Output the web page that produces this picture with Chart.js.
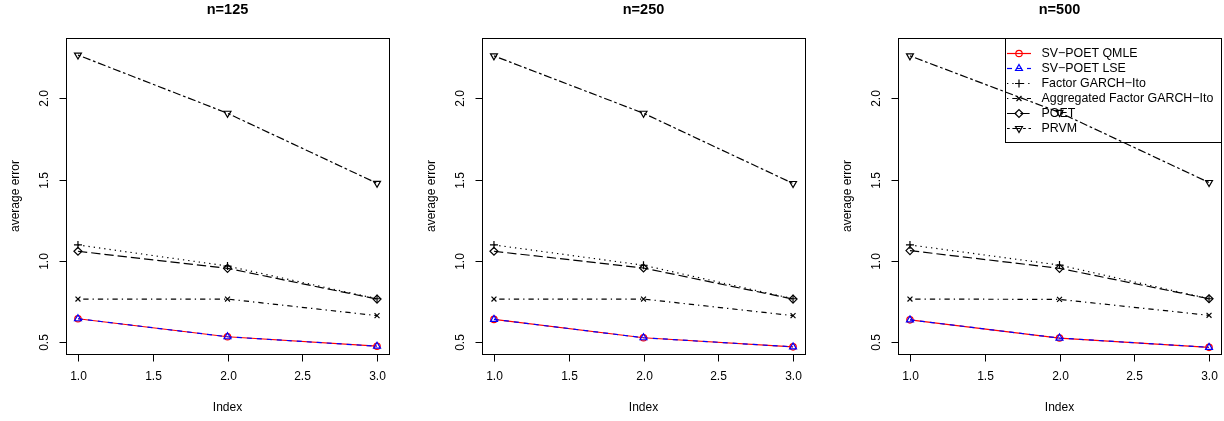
<!DOCTYPE html>
<html>
<head>
<meta charset="utf-8">
<script src="https://cdn.jsdelivr.net/npm/chart.js@4.4.1/dist/chart.umd.min.js"></script>
<style>
  html, body { margin: 0; padding: 0; background: #fff; overflow: hidden; }
  #wrap { position: relative; width: 1224px; height: 421px; overflow: hidden; }
  .panel { position: absolute; top: 0; width: 408px; height: 421px; }
</style>
</head>
<body>
<div id="wrap">
  <div class="panel" style="left:0px"><canvas id="c0" width="408" height="421"></canvas></div>
  <div class="panel" style="left:416px"><canvas id="c1" width="408" height="421"></canvas></div>
  <div class="panel" style="left:832px"><canvas id="c2" width="408" height="421"></canvas></div>
</div>
<script>
// --- DATA ---
const panelTitles = ['n=125', 'n=250', 'n=500'];
const xIndex = [1, 2, 3];
const xTicks = [1.0, 1.5, 2.0, 2.5, 3.0];
const yTicks = [0.5, 1.0, 1.5, 2.0];
const seriesNames = ['SV\u2212POET QMLE', 'SV\u2212POET LSE', 'Factor GARCH\u2212Ito',
  'Aggregated Factor GARCH\u2212Ito', 'POET', 'PRVM'];

// one row per panel (n=125, n=250, n=500)
const svPoetQmle = [[0.645, 0.534, 0.476], [0.641, 0.528, 0.472], [0.638, 0.526, 0.469]];
const svPoetLse = [[0.645, 0.534, 0.476], [0.641, 0.528, 0.472], [0.638, 0.526, 0.469]];
const factorGarch = [[1.099, 0.969, 0.768], [1.099, 0.974, 0.768], [1.099, 0.975, 0.768]];
const aggFactorGarch = [[0.766, 0.766, 0.664], [0.766, 0.766, 0.664], [0.766, 0.764, 0.666]];
const poet = [[1.060, 0.955, 0.766], [1.060, 0.957, 0.766], [1.064, 0.955, 0.768]];
const prvm = [[2.267, 1.909, 1.478], [2.262, 1.909, 1.477], [2.262, 1.914, 1.483]];

const allSeries = [svPoetQmle, svPoetLse, factorGarch, aggFactorGarch, poet, prvm];

// R lty / pch look-alikes
const styles = [
  { color: '#ff0000', dash: [], point: 'circle', rot: 0, r: 3.2 },
  { color: '#0000ff', dash: [5, 5], point: 'triangle', rot: 0, r: 4 },
  { color: '#000000', dash: [1.3, 4], point: 'cross', rot: 0, r: 4 },
  { color: '#000000', dash: [1.3, 4, 5.3, 4], point: 'crossRot', rot: 0, r: 3.5 },
  { color: '#000000', dash: [9.3, 4], point: 'rectRot', rot: 0, r: 4 },
  { color: '#000000', dash: [2.7, 2.7, 8, 2.7], point: 'triangle', rot: 180, r: 4 }
];

const FONT = "'Liberation Sans', Arial, Helvetica, sans-serif";
const LW = 1.2;

function drawMarker(ctx, st, x, y) {
  ctx.save();
  ctx.setLineDash([]);
  ctx.strokeStyle = st.color;
  ctx.fillStyle = 'rgba(0,0,0,0)';
  ctx.lineWidth = LW;
  Chart.helpers.drawPoint(ctx, { pointStyle: st.point, rotation: st.rot, radius: st.r, borderWidth: LW }, x, y);
  ctx.restore();
}

// --- R style frame: box, outward ticks, labels, titles, legend ---
const rFrame = {
  id: 'rFrame',
  afterDraw(chart, args, opts) {
    const { ctx, chartArea: a, scales: { x, y } } = chart;
    ctx.save();
    ctx.strokeStyle = '#000';
    ctx.fillStyle = '#000';
    ctx.lineWidth = 1;
    ctx.setLineDash([]);
    const L = Math.round(a.left) + 0.5, R = Math.round(a.right) + 0.5;
    const T = Math.round(a.top) + 0.5, B = Math.round(a.bottom) + 0.5;
    ctx.strokeRect(L, T, R - L, B - T);

    ctx.font = '12px ' + FONT;
    ctx.textAlign = 'center';
    ctx.textBaseline = 'middle';
    xTicks.forEach(v => {
      const px = Math.round(x.getPixelForValue(v)) + 0.5;
      ctx.beginPath(); ctx.moveTo(px, B); ctx.lineTo(px, B + 7); ctx.stroke();
      ctx.fillText(v.toFixed(1), px, B + 22.5);
    });
    yTicks.forEach(v => {
      const py = Math.round(y.getPixelForValue(v)) + 0.5;
      ctx.beginPath(); ctx.moveTo(L, py); ctx.lineTo(L - 7, py); ctx.stroke();
      ctx.save();
      ctx.translate(L - 22, py);
      ctx.rotate(-Math.PI / 2);
      ctx.fillText(v.toFixed(1), 0, 0);
      ctx.restore();
    });
    const cx = (a.left + a.right) / 2, cy = (a.top + a.bottom) / 2;
    ctx.fillText('Index', cx, B + 53.5);
    ctx.save();
    ctx.translate(L - 51, cy);
    ctx.rotate(-Math.PI / 2);
    ctx.fillText('average error', 0, 0);
    ctx.restore();
    ctx.font = 'bold 14.5px ' + FONT;
    ctx.fillText(opts.title, cx, 10);

    if (opts.legend) {
      const lx = 173.5, lt = T, lb = 142.5;
      ctx.strokeRect(lx, lt, R - lx, lb - lt);
      ctx.font = '12.4px ' + FONT;
      ctx.textAlign = 'left';
      seriesNames.forEach((name, i) => {
        const st = styles[i];
        const ry = 53.5 + i * 15;
        ctx.save();
        ctx.strokeStyle = st.color;
        ctx.lineWidth = LW;
        ctx.setLineDash(st.dash);
        ctx.beginPath(); ctx.moveTo(175, ry); ctx.lineTo(199, ry); ctx.stroke();
        ctx.restore();
        drawMarker(ctx, st, 187, ry);
        ctx.fillStyle = '#000';
        ctx.fillText(name, 209.5, ry);
      });
    }
    ctx.restore();
  }
};

function makePanel(p) {
  const datasets = allSeries.map((arr, i) => {
    const st = styles[i];
    return {
      label: seriesNames[i],
      data: xIndex.map((xv, j) => ({ x: xv, y: arr[p][j] })),
      borderColor: st.color,
      borderWidth: LW,
      borderDash: st.dash,
      backgroundColor: 'rgba(0,0,0,0)',
      pointStyle: st.point,
      pointRotation: st.rot,
      pointRadius: st.r,
      pointBorderWidth: LW,
      pointBorderColor: st.color,
      pointBackgroundColor: 'rgba(0,0,0,0)',
      tension: 0,
      order: 6 - i
    };
  });

  return new Chart(document.getElementById('c' + p), {
    type: 'line',
    data: { datasets: datasets },
    options: {
      responsive: false,
      animation: false,
      layout: { padding: { left: 66, right: 19, top: 38, bottom: 67 } },
      scales: {
        x: { type: 'linear', min: 0.92, max: 3.08, display: false },
        y: { type: 'linear', min: 0.428, max: 2.372, display: false }
      },
      plugins: {
        legend: { display: false },
        tooltip: { enabled: false },
        rFrame: { title: panelTitles[p], legend: p === 2 }
      }
    },
    plugins: [rFrame]
  });
}

[0, 1, 2].forEach(makePanel);
</script>
</body>
</html>
